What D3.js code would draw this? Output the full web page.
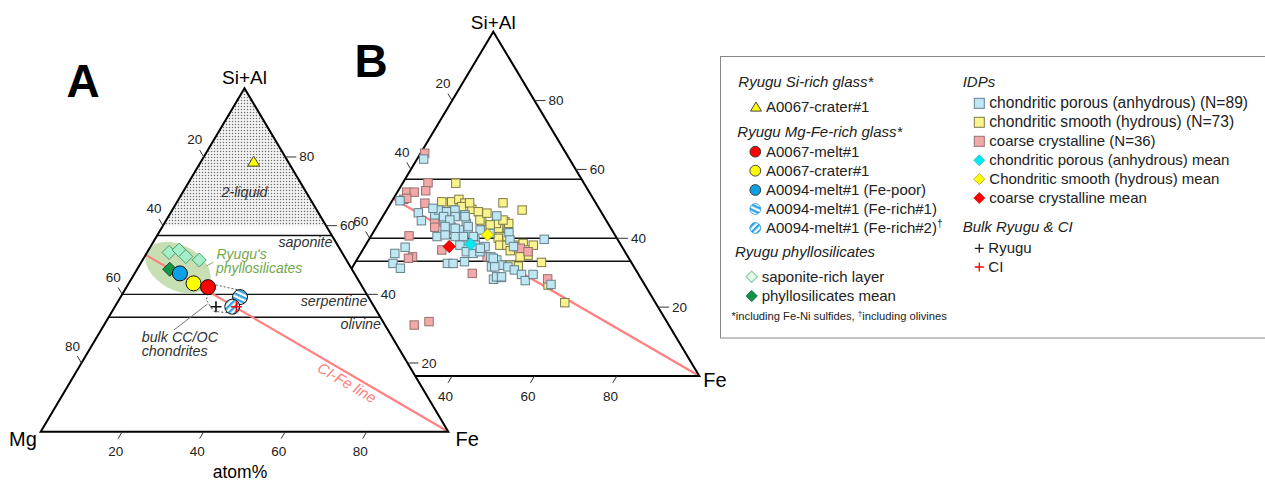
<!DOCTYPE html>
<html><head><meta charset="utf-8">
<script src="https://cdn.jsdelivr.net/npm/d3@7/dist/d3.min.js"></script>
<style>
body{margin:0;background:#fff;}
svg{display:block;font-family:"Liberation Sans",Arial,sans-serif;}
</style>
</head><body>
<svg id="c" width="1265" height="481"></svg>
<script>
// ================= DATA =================
// compositions in atom%: si = Si+Al, fe = Fe (Mg = 100 - si - fe)
const tickValues = [20, 40, 60, 80];
const mineralNames = ["saponite", "serpentine", "olivine"];
const mineralSi = [57.14, 40, 33.33];
const twoLiquidSi = 60;
const ciFeLineSi = [51.5, 0];
const ciFeLineFe = [0, 100];

// Panel A
const siRichGlass = [[78.5, 13.0]];
const mgFeGlassNames = ["A0067-melt#1", "A0067-crater#1", "A0094-melt#1 (Fe-poor)", "A0094-melt#1 (Fe-rich#1)", "A0094-melt#1 (Fe-rich#2)"];
const mgFeGlassSi = [42.1, 43.2, 46.1, 39.2, 36.4];
const mgFeGlassFe = [20.0, 15.9, 11.1, 29.3, 28.8];
const saponiteLayer = [[52.2, 5.4], [52.9, 7.5], [51.0, 10.1], [50.0, 13.9]];
const phylloMean = [[47.3, 8.0]];
const bulkRyugu = [[36.4, 24.8]];
const bulkCI = [[36.4, 29.8]];
const phylloField = [[47.8, 9.8]];
const ccocField = [[43.0, 20.5], [41.3, 27.8], [34.3, 30.8], [35.1, 24.9], [38.4, 21.4]];

// Panel B – IDPs
const idpPorous = [[63.0,1.6],[50.9,1.9],[47.4,8.1],[45.1,10.0],[46.8,12.4],[48.2,12.6],[47.7,14.8],[48.2,16.6],[46.3,17.6],[46.8,19.7],[45.3,15.4],[44.3,21.3],[43.2,18.3],[42.4,20.7],[41.9,22.9],[40.5,16.1],[41.0,17.8],[40.5,20.5],[40.5,22.5],[46.5,27.6],[41.6,33.0],[39.7,42.5],[37.4,9.9],[35.6,8.3],[32.7,9.3],[31.3,11.8],[32.7,22.5],[32.7,23.9],[33.2,26.4],[38.0,22.9],[36.1,25.4],[35.6,27.3],[36.1,28.7],[37.6,29.2],[34.6,32.1],[31.7,33.7],[28.1,36.0],[39.5,25.8],[33.7,34.0],[32.2,35.9],[31.7,37.7],[30.8,39.7],[29.5,42.1],[27.7,43.9],[29.5,44.9],[26.6,50.7],[28.6,37.6],[46.3,20.0],[42.4,25.6],[41.4,28.5],[39.5,34.3],[37.6,36.1],[34.2,32.9],[31.7,34.5],[28.8,36.4],[28.8,37.6],[48.7,11.0],[46.3,14.8],[45.3,16.8],[43.4,16.6],[42.9,19.3],[43.4,22.2],[40.5,24.9],[38.0,26.6],[37.1,28.3]];
const idpSmooth = [[56.0,12.9],[50.2,13.2],[50.6,14.6],[51.3,16.0],[50.2,18.0],[48.4,20.6],[47.7,22.5],[44.8,24.8],[42.4,27.2],[50.3,27.2],[48.2,32.9],[44.8,30.4],[44.3,31.6],[42.9,29.8],[41.9,32.6],[40.5,31.4],[40.0,31.2],[38.0,32.6],[38.0,34.3],[36.4,35.9],[38.0,36.3],[31.9,40.1],[33.0,45.2],[26.4,50.1],[21.3,56.7],[50.6,12.2],[49.2,17.7],[45.3,24.1],[44.3,28.6],[45.3,29.7],[40.5,33.1],[37.6,36.9],[38.5,38.0],[36.6,39.8],[38.0,40.7],[35.1,40.9],[34.6,39.2],[43.9,27.3],[47.3,24.8],[50.3,19.1],[32.2,38.0]];
const idpCoarse = [[64.7,1.0],[56.1,6.1],[53.4,2.3],[53.4,4.1],[53.8,6.7],[51.3,2.6],[50.2,8.3],[45.3,13.1],[43.2,14.2],[40.7,9.2],[34.6,13.1],[34.2,12.3],[36.6,19.2],[29.8,30.0],[14.8,23.4],[15.8,26.5],[37.1,38.0],[36.1,40.4],[28.2,49.1],[34.6,31.2],[42.4,17.9],[51.6,3.2],[45.8,15.8]];
const idpMeanNames = ["coarse crystalline mean", "chondritic porous (anhydrous) mean", "Chondritic smooth (hydrous) mean"];
const idpMeanSi = [37.6, 38.3, 41.0];
const idpMeanFe = [20.5, 25.3, 28.1];

// Legend texts
const legendHeadersLeft = ["Ryugu Si-rich glass*", "Ryugu Mg-Fe-rich glass*", "Ryugu phyllosilicates"];
const legendHeadersRight = ["IDPs", "Bulk Ryugu & CI"];
const legendIdp = ["chondritic porous (anhydrous) (N=89)", "chondritic smooth (hydrous) (N=73)", "coarse crystalline (N=36)", "chondritic porous (anhydrous) mean", "Chondritic smooth (hydrous) mean", "coarse crystalline mean"];
const legendPhyllo = ["saponite-rich layer", "phyllosilicates mean"];
const legendBulk = ["Ryugu", "CI"];

// ================= STYLE =================
const C = {
  red: "#ff0000", yellow: "#ffff00", blue: "#0ba0e6", hatch: "#2f9fe0",
  sapFill: "#a3efca", sapStroke: "#4f9a6c", phylMean: "#119447",
  sqBlue: "#bfe6f3", sqBlueS: "#66808a", sqYel: "#fbf48e", sqYelS: "#7d7a45", sqPink: "#f4a9a9", sqPinkS: "#96706f",
  cyan: "#00e8f2", ciLine: "#ff8080", green: "#6fa84a"
};

const svg = d3.select("#c");
const defs = svg.append("defs");
const st = defs.append("pattern").attr("id", "stipple").attr("width", 3).attr("height", 3).attr("patternUnits", "userSpaceOnUse");
st.append("rect").attr("width", 3).attr("height", 3).attr("fill", "#f4f4f4");
st.append("circle").attr("cx", 1.5).attr("cy", 1.5).attr("r", 0.75).attr("fill", "#707070");
function hatch(id, ang) {
  const p = defs.append("pattern").attr("id", id).attr("width", 4.6).attr("height", 4.6)
    .attr("patternUnits", "userSpaceOnUse").attr("patternTransform", `rotate(${ang})`);
  p.append("rect").attr("width", 4.6).attr("height", 4.6).attr("fill", "#fff");
  p.append("rect").attr("width", 4.6).attr("height", 2.3).attr("fill", C.hatch);
}
hatch("hatch1", 25); hatch("hatch2", -45);
const hatchFill = ["", "", "", "url(#hatch1)", "url(#hatch2)"];
const glassFill = [C.red, C.yellow, C.blue, null, null];

function makePanel(cfg) {
  const xs = d3.scaleLinear().domain([0, 100]).range([cfg.left, cfg.right]);
  const ys = d3.scaleLinear().domain([0, 100]).range([cfg.bottom, cfg.top]);
  const p = (si, fe) => [xs(fe + si / 2), ys(si)];
  return { xs, ys, p, cfg };
}
const A = makePanel({ left: 40.7, right: 448.3, bottom: 431.7, top: 88.3 });
const B = makePanel({ left: 287.3, right: 699.3, bottom: 376, top: 31.7 });

const diamondPath = h => `M0,${-h}L${h},0L0,${h}L${-h},0Z`;
const trianglePath = (w, h) => `M0,${-h * 0.6}L${w / 2},${h * 0.4}L${-w / 2},${h * 0.4}Z`;
const plusPath = s => `M${-s},0H${s}M0,${-s}V${s}`;

function frame(g, P) {
  const tri = [P.p(100, 0), P.p(0, 0), P.p(0, 100)];
  g.append("path").attr("d", d3.line()(tri) + "Z").attr("fill", "#fff");
}
function outline(g, P) {
  const tri = [P.p(100, 0), P.p(0, 0), P.p(0, 100)];
  g.append("path").attr("d", d3.line()(tri) + "Z").attr("fill", "none").attr("stroke", "#000").attr("stroke-width", 2).attr("stroke-linejoin", "miter");
}
function mineralLinesDraw(g, P) {
  mineralSi.forEach(s => {
    const a = P.p(s, 0), b = P.p(s, 100 - s);
    g.append("line").attr("x1", a[0]).attr("y1", a[1]).attr("x2", b[0]).attr("y2", b[1])
      .attr("stroke", "#111").attr("stroke-width", 1.4);
  });
}
function ciFe(g, P) {
  const pts = ciFeLineSi.map((s, i) => P.p(s, ciFeLineFe[i]));
  g.append("path").attr("d", d3.line()(pts)).attr("stroke", C.ciLine).attr("stroke-width", 2.2).attr("fill", "none");
}
function ticks(g, P, sides) {
  const cfg = P.cfg, w = (cfg.right - cfg.left) / 2, h = cfg.bottom - cfg.top, L = Math.hypot(w, h);
  const tg = g.append("g").attr("font-size", 13.5).attr("fill", "#222");
  sides.left.forEach(t => {
    const [x, y] = P.p(100 - t, 0);
    tg.append("line").attr("x1", x).attr("y1", y).attr("x2", x - 8 * w / L).attr("y2", y - 8 * h / L).attr("stroke", "#333");
    tg.append("text").attr("x", x - 9).attr("y", y - 12.5).attr("text-anchor", "middle").text(t);
  });
  sides.bottom.forEach(t => {
    const [x, y] = P.p(0, t);
    tg.append("line").attr("x1", x).attr("y1", y).attr("x2", x - 8 * w / L).attr("y2", y + 8 * h / L).attr("stroke", "#333");
    tg.append("text").attr("x", x - 6.5).attr("y", y + 24.5).attr("text-anchor", "middle").text(t);
  });
  sides.right.forEach(t => {
    const [x, y] = P.p(t, 100 - t);
    tg.append("line").attr("x1", x).attr("y1", y).attr("x2", x + 11).attr("y2", y).attr("stroke", "#333");
    tg.append("text").attr("x", x + 14).attr("y", y + 4.5).text(t);
  });
}

// ================= PANEL B =================
const gB = svg.append("g");
mineralLinesDraw(gB, B);
ciFe(gB, B);
outline(gB, B);
ticks(gB, B, { left: [20, 40, 60], bottom: [40, 60, 80], right: tickValues });
function squares(data, fill, stroke) {
  gB.append("g").selectAll("rect").data(data).join("rect")
    .attr("x", d => B.p(d[0], d[1])[0] - 4.2).attr("y", d => B.p(d[0], d[1])[1] - 4.2)
    .attr("width", 8.4).attr("height", 8.4).attr("fill", fill).attr("stroke", stroke).attr("stroke-width", 1);
}
squares(idpSmooth, C.sqYel, C.sqYelS);
squares(idpCoarse, C.sqPink, C.sqPinkS);
squares(idpPorous, C.sqBlue, C.sqBlueS);
const meanFill = [C.red, C.cyan, C.yellow], meanStroke = ["#c00", "#3aa", "#a90"];
idpMeanSi.forEach((s, i) => {
  const [x, y] = B.p(s, idpMeanFe[i]);
  gB.append("path").attr("d", diamondPath(6.2)).attr("transform", `translate(${x},${y})`)
    .attr("fill", meanFill[i]).attr("stroke", meanStroke[i]).attr("stroke-width", 0.8);
});
gB.append("text").attr("x", B.p(100, 0)[0]).attr("y", 29.3).attr("text-anchor", "middle").attr("font-size", 19).text("Si+Al");
gB.append("text").attr("x", 703.3).attr("y", 387).attr("font-size", 20).text("Fe");
gB.append("text").attr("x", 371).attr("y", 76.7).attr("text-anchor", "middle").attr("font-size", 46).attr("font-weight", "bold").text("B");

// ================= PANEL A =================
const gA = svg.append("g");
frame(gA, A);
{
  const pts = [A.p(100, 0), A.p(twoLiquidSi, 0), A.p(twoLiquidSi, 100 - twoLiquidSi)];
  gA.append("path").attr("d", d3.line()(pts) + "Z").attr("fill", "url(#stipple)");
}
mineralLinesDraw(gA, A);
{
  const [x, y] = A.p(phylloField[0][0], phylloField[0][1]);
  gA.append("ellipse").attr("cx", x).attr("cy", y).attr("rx", 35).attr("ry", 22.5)
    .attr("transform", `rotate(28,${x},${y})`).attr("fill", "#c7dfb3");
}
ciFe(gA, A);
outline(gA, A);
ticks(gA, A, { left: tickValues, bottom: tickValues, right: tickValues });

const itl = gA.append("g").attr("font-style", "italic").attr("fill", "#333").attr("font-size", 14.3);
itl.append("text").attr("x", A.p(70, 15)[0]).attr("y", 197.3).attr("text-anchor", "middle").text("2-liquid");
mineralSi.forEach((s, i) => {
  const yb = A.ys(s) + 12;
  const edgeX = A.xs(100 - A.ys.invert(yb) / 2);
  itl.append("text").attr("x", edgeX - 6.5).attr("y", yb).attr("text-anchor", "end").text(mineralNames[i]);
});

gA.append("path").attr("d", d3.line()(ccocField.map(d => A.p(d[0], d[1]))) + "Z")
  .attr("fill", "none").attr("stroke", "#555").attr("stroke-width", 1).attr("stroke-dasharray", "2,2");
gA.append("line").attr("x1", 207.5).attr("y1", 304).attr("x2", 174).attr("y2", 330).attr("stroke", "#777").attr("stroke-width", 1);
itl.append("text").attr("x", 141.7).attr("y", 342).text("bulk CC/OC");
itl.append("text").attr("x", 141.7).attr("y", 356.3).text("chondrites");

gA.append("line").attr("x1", 206.5).attr("y1", 266).attr("x2", 213.5).attr("y2", 262).attr("stroke", "#8aa878");
const gl = gA.append("g").attr("font-style", "italic").attr("fill", C.green).attr("font-size", 14);
gl.append("text").attr("x", 216.5).attr("y", 258.5).text("Ryugu's");
gl.append("text").attr("x", 216).attr("y", 273).text("phyllosilicates");

saponiteLayer.forEach(d => {
  const [x, y] = A.p(d[0], d[1]);
  gA.append("path").attr("d", diamondPath(7)).attr("transform", `translate(${x},${y})`)
    .attr("fill", C.sapFill).attr("stroke", C.sapStroke).attr("stroke-width", 1);
});
phylloMean.forEach(d => {
  const [x, y] = A.p(d[0], d[1]);
  gA.append("path").attr("d", diamondPath(7)).attr("transform", `translate(${x},${y})`)
    .attr("fill", C.phylMean).attr("stroke", "#1b4d2d").attr("stroke-width", 1);
});
[2, 1, 0, 3, 4].forEach(i => {
  const [x, y] = A.p(mgFeGlassSi[i], mgFeGlassFe[i]);
  gA.append("circle").attr("cx", x).attr("cy", y).attr("r", 7.5)
    .attr("fill", glassFill[i] || hatchFill[i]).attr("stroke", "#111").attr("stroke-width", 1);
});
bulkRyugu.forEach(d => {
  const [x, y] = A.p(d[0], d[1]);
  gA.append("path").attr("d", plusPath(5.5)).attr("transform", `translate(${x},${y})`).attr("stroke", "#111").attr("stroke-width", 1.6);
});
bulkCI.forEach(d => {
  const [x, y] = A.p(d[0], d[1]);
  gA.append("path").attr("d", plusPath(5.5)).attr("transform", `translate(${x},${y})`).attr("stroke", C.red).attr("stroke-width", 1.6);
});
siRichGlass.forEach(d => {
  const [x, y] = A.p(d[0], d[1]);
  gA.append("path").attr("d", trianglePath(12, 10)).attr("transform", `translate(${x},${y})`)
    .attr("fill", C.yellow).attr("stroke", "#444").attr("stroke-width", 1);
});

{
  const t = 0.68;
  const s = ciFeLineSi[0] + (ciFeLineSi[1] - ciFeLineSi[0]) * t, f = ciFeLineFe[0] + (ciFeLineFe[1] - ciFeLineFe[0]) * t;
  const [x, y] = A.p(s, f);
  const a0 = A.p(ciFeLineSi[0], ciFeLineFe[0]), a1 = A.p(ciFeLineSi[1], ciFeLineFe[1]);
  const ang = Math.atan2(a1[1] - a0[1], a1[0] - a0[0]) * 180 / Math.PI;
  gA.append("text").attr("transform", `translate(${x},${y}) rotate(${ang})`).attr("y", 14).attr("text-anchor", "middle")
    .attr("font-style", "italic").attr("font-size", 15).attr("fill", C.ciLine).text("CI-Fe line");
}
gA.append("text").attr("x", A.p(100, 0)[0]).attr("y", 84).attr("text-anchor", "middle").attr("font-size", 19).text("Si+Al");
gA.append("text").attr("x", 9).attr("y", 446).attr("font-size", 20).text("Mg");
gA.append("text").attr("x", 455.5).attr("y", 446).attr("font-size", 20).text("Fe");
gA.append("text").attr("x", 240).attr("y", 477.5).attr("text-anchor", "middle").attr("font-size", 17.5).text("atom%");
gA.append("text").attr("x", 83).attr("y", 96.7).attr("text-anchor", "middle").attr("font-size", 46).attr("font-weight", "bold").text("A");

// ================= LEGEND =================
const gL = svg.append("g").attr("font-size", 15).attr("fill", "#222");
gL.append("rect").attr("x", 720.5).attr("y", 56.5).attr("width", 600).attr("height", 281.5).attr("fill", "#fff").attr("stroke", "#888").attr("stroke-width", 1);
const hdr = (x, yc, t) => gL.append("text").attr("x", x).attr("y", yc + 5).attr("font-style", "italic").text(t);
const item = (x, yc, t) => gL.append("text").attr("x", x).attr("y", yc + 5).text(t);
hdr(738.3, 81.7, legendHeadersLeft[0]);
gL.append("path").attr("d", trianglePath(11, 9)).attr("transform", "translate(756,107.5)").attr("fill", C.yellow).attr("stroke", "#444");
item(766, 107, "A0067-crater#1");
hdr(737.3, 131.7, legendHeadersLeft[1]);
const glassY = [151.7, 170.7, 190, 209, 228];
mgFeGlassNames.forEach((n, i) => {
  gL.append("circle").attr("cx", 755.3).attr("cy", glassY[i]).attr("r", 5.4)
    .attr("fill", glassFill[i] || hatchFill[i]).attr("stroke", glassFill[i] ? "#333" : "#2f9fe0").attr("stroke-width", 0.9);
  const tx = item(766, glassY[i], n);
  if (i === 4) tx.append("tspan").attr("dy", -6).attr("font-size", 10).text("†");
});
hdr(735, 251.7, legendHeadersLeft[2]);
const phY = [276.7, 296];
gL.append("path").attr("d", diamondPath(5.6)).attr("transform", `translate(751.7,${phY[0]})`).attr("fill", "#e6f8ec").attr("stroke", "#8fc9a0").attr("stroke-width", 1.2);
gL.append("path").attr("d", diamondPath(5.6)).attr("transform", `translate(751.7,${phY[1]})`).attr("fill", C.phylMean).attr("stroke", "#117a3a");
legendPhyllo.forEach((n, i) => item(761.7, phY[i], n));
{
  const fn = gL.append("text").attr("x", 731.5).attr("y", 319.5).attr("font-size", 11.2);
  fn.append("tspan").text("*including Fe-Ni sulfides, ");
  fn.append("tspan").attr("dy", -4).attr("font-size", 8).text("†");
  fn.append("tspan").attr("dy", 4).text("including olivines");
}
hdr(962.7, 81.7, legendHeadersRight[0]);
const idpY = [103.3, 122.3, 141.3, 160.3, 179.2, 198];
const sqF = [[C.sqBlue, C.sqBlueS], [C.sqYel, C.sqYelS], [C.sqPink, C.sqPinkS]];
legendIdp.forEach((n, i) => {
  if (i < 3) gL.append("rect").attr("x", 979.3 - 5).attr("y", idpY[i] - 5).attr("width", 10).attr("height", 10).attr("fill", sqF[i][0]).attr("stroke", sqF[i][1]);
  else {
    const k = [1, 2, 0][i - 3];
    gL.append("path").attr("d", diamondPath(5.5)).attr("transform", `translate(979.3,${idpY[i]})`).attr("fill", meanFill[k]).attr("stroke", meanStroke[k]).attr("stroke-width", 0.7);
  }
  item(989.3, idpY[i], n).attr("font-size", i < 2 ? 15.6 : 15);
});
hdr(962.7, 227.3, legendHeadersRight[1]);
const bY = [248.3, 267];
gL.append("path").attr("d", plusPath(4.5)).attr("transform", `translate(979.3,${bY[0]})`).attr("stroke", "#222").attr("stroke-width", 1.3);
gL.append("path").attr("d", plusPath(4.5)).attr("transform", `translate(979.3,${bY[1]})`).attr("stroke", C.red).attr("stroke-width", 1.3);
legendBulk.forEach((n, i) => item(988.3, bY[i], n));
</script>
</body></html>
